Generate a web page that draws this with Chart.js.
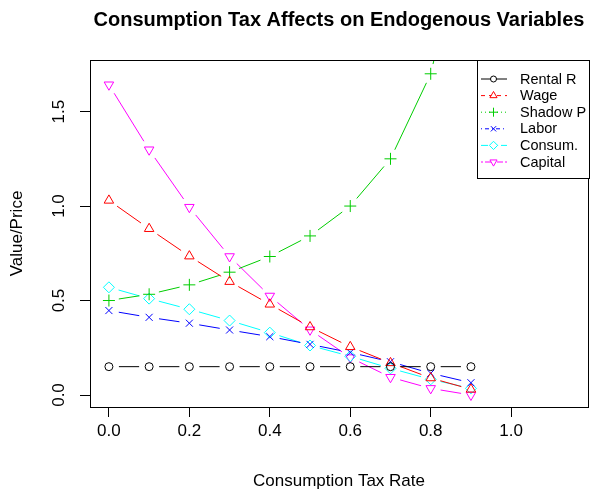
<!DOCTYPE html>
<html>
<head>
<meta charset="utf-8">
<script src="https://cdn.jsdelivr.net/npm/chart.js@4/dist/chart.umd.min.js"></script>
<style>
  html, body { margin: 0; padding: 0; background: #fff; }
  canvas { display: block; }
</style>
</head>
<body>
<canvas id="grafico" width="597" height="497"></canvas>
<script>
// -------------------------
// Dados
// -------------------------
const taxas = [0, 0.1, 0.2, 0.3, 0.4, 0.5, 0.6, 0.7, 0.8, 0.9];
const rentalR = [0.15, 0.15, 0.15, 0.15, 0.15, 0.15, 0.15, 0.15, 0.15, 0.15];
const wage = [1.03, 0.88, 0.735, 0.60, 0.48, 0.36, 0.255, 0.17, 0.09, 0.03];
const shadowP = [0.50, 0.533, 0.583, 0.65, 0.733, 0.842, 1.0, 1.25, 1.70, 2.6];
const labor = [0.447, 0.411, 0.380, 0.344, 0.309, 0.268, 0.225, 0.176, 0.115, 0.065];
const consum = [0.570, 0.510, 0.454, 0.394, 0.330, 0.262, 0.205, 0.141, 0.083, 0.035];
const capital = [1.642, 1.298, 0.994, 0.733, 0.524, 0.345, 0.198, 0.094, 0.035, 0.0];

const nomesSeries = ["Rental R", "Wage", "Shadow P", "Labor", "Consum.", "Capital"];
const xTicks = [0, 0.2, 0.4, 0.6, 0.8, 1.0];
const yTicks = [0, 0.5, 1.0, 1.5];

const titulo = "Consumption Tax Affects on Endogenous Variables";
const tituloX = "Consumption Tax Rate";
const tituloY = "Value/Price";

// -------------------------
// Estilos (cores / marcadores R)
// -------------------------
const cores = ["#000000", "#FF0000", "#00CD00", "#0000FF", "#00FFFF", "#FF00FF"];
const marcadores = ["circle", "triangle", "cross", "crossRot", "rectRot", "triangle"];
const rotacoes = [0, 0, 0, 0, 0, 180];
const raios = [4, 5.5, 6, 5, 5.5, 5.5];
const tracosLegenda = [[], [4, 4], [1, 3], [1, 3, 4, 3], [7, 3], [2, 2, 6, 2]];
const GAP = 10; // espaço entre linha e ponto (type = "b")

const FONTE = "'Liberation Sans', Arial, Helvetica, sans-serif";

function montarPontos(valores) {
  return taxas.map((t, i) => ({ x: t, y: valores[i] }));
}

const series = [rentalR, wage, shadowP, labor, consum, capital];

const datasets = series.map((valores, i) => ({
  label: nomesSeries[i],
  data: montarPontos(valores),
  borderColor: cores[i],
  borderWidth: 1,
  pointStyle: marcadores[i],
  pointRotation: rotacoes[i],
  pointRadius: raios[i],
  pointBorderColor: cores[i],
  pointBackgroundColor: "rgba(0,0,0,0)",
  pointBorderWidth: 1,
  fill: false,
  tension: 0,
  segment: {
    // linha com folga em volta de cada ponto
    borderDash: ctx => {
      const len = Math.hypot(ctx.p1.x - ctx.p0.x, ctx.p1.y - ctx.p0.y);
      const meio = Math.max(len - 2 * GAP, 0);
      return [0, GAP, meio + ctx.p0DataIndex * 1e-3, len + 100];
    }
  }
}));

// -------------------------
// Marcador simples p/ legenda
// -------------------------
function desenharMarcador(ctx, tipo, x, y, r, rot) {
  ctx.beginPath();
  if (tipo === "circle") {
    ctx.arc(x, y, r, 0, Math.PI * 2);
  } else if (tipo === "triangle") {
    let a = rot * Math.PI / 180;
    for (let k = 0; k < 3; k++) {
      const px = x + Math.sin(a) * r;
      const py = y - Math.cos(a) * r;
      if (k === 0) ctx.moveTo(px, py); else ctx.lineTo(px, py);
      a += 2 * Math.PI / 3;
    }
    ctx.closePath();
  } else if (tipo === "cross") {
    ctx.moveTo(x - r, y); ctx.lineTo(x + r, y);
    ctx.moveTo(x, y - r); ctx.lineTo(x, y + r);
  } else if (tipo === "crossRot") {
    const d = r * Math.SQRT1_2;
    ctx.moveTo(x - d, y - d); ctx.lineTo(x + d, y + d);
    ctx.moveTo(x - d, y + d); ctx.lineTo(x + d, y - d);
  } else if (tipo === "rectRot") {
    ctx.moveTo(x, y - r); ctx.lineTo(x + r, y);
    ctx.lineTo(x, y + r); ctx.lineTo(x - r, y);
    ctx.closePath();
  }
  if (tipo === "circle" || tipo === "triangle" || tipo === "rectRot") {
    ctx.fillStyle = "#FFFFFF";
    ctx.fill();
  }
  ctx.stroke();
}

// -------------------------
// Plugin: título, caixa e legenda
// -------------------------
const pluginMoldura = {
  id: "moldura",
  afterDraw(chart) {
    const ctx = chart.ctx;
    const area = chart.chartArea;
    ctx.save();

    // caixa do gráfico
    ctx.strokeStyle = "#000";
    ctx.lineWidth = 1;
    ctx.setLineDash([]);
    ctx.strokeRect(Math.round(area.left) + 0.5, Math.round(area.top) + 0.5,
      Math.round(area.right - area.left), Math.round(area.bottom - area.top));

    // título
    ctx.fillStyle = "#000";
    ctx.font = "bold 20px " + FONTE;
    ctx.textAlign = "center";
    ctx.textBaseline = "alphabetic";
    ctx.fillText(titulo, (area.left + area.right) / 2, 26);

    // legenda
    const lx0 = 477.5, ly0 = 60.5, lw = 112, lh = 118;
    ctx.fillStyle = "#FFFFFF";
    ctx.fillRect(lx0, ly0, lw, lh);
    ctx.strokeStyle = "#000";
    ctx.strokeRect(lx0, ly0, lw, lh);

    ctx.font = "14.5px " + FONTE;
    ctx.textAlign = "left";
    ctx.textBaseline = "middle";
    nomesSeries.forEach((nome, i) => {
      const y = 79 + i * 16.6;
      ctx.strokeStyle = cores[i];
      ctx.lineWidth = 1;
      ctx.setLineDash(tracosLegenda[i]);
      ctx.beginPath();
      ctx.moveTo(481, y);
      ctx.lineTo(507, y);
      ctx.stroke();
      ctx.setLineDash([]);
      desenharMarcador(ctx, marcadores[i], 493.5, y, raios[i] * 0.75, rotacoes[i]);
      ctx.fillStyle = "#000";
      ctx.fillText(nome, 520, y + 0.5);
    });

    ctx.restore();
  }
};

// -------------------------
// Gráfico
// -------------------------
Chart.defaults.color = "#000";
Chart.defaults.font.family = FONTE;

const ctxGrafico = document.getElementById("grafico").getContext("2d");

new Chart(ctxGrafico, {
  type: "line",
  data: { datasets },
  options: {
    responsive: false,
    animation: false,
    events: [],
    layout: {
      padding: { top: 60, bottom: 0, left: 0, right: 9 }
    },
    plugins: {
      legend: { display: false },
      title: { display: false },
      tooltip: { enabled: false }
    },
    scales: {
      x: {
        type: "linear",
        min: -0.047,
        max: 1.191,
        afterBuildTicks: scale => { scale.ticks = xTicks.map(v => ({ value: v })); },
        afterFit: scale => { scale.height = 90; },
        grid: {
          drawOnChartArea: false,
          drawTicks: true,
          tickLength: 10,
          color: "#000"
        },
        border: { display: true, color: "#000" },
        ticks: {
          autoSkip: false,
          maxRotation: 0,
          padding: 4.5,
          font: { size: 17 },
          callback: v => v.toFixed(1)
        },
        title: {
          display: true,
          text: tituloX,
          font: { size: 17 },
          padding: { top: 0, bottom: 5.4 }
        }
      },
      y: {
        type: "linear",
        min: -0.0635,
        max: 1.773,
        afterBuildTicks: scale => { scale.ticks = yTicks.map(v => ({ value: v })); },
        afterFit: scale => { scale.width = 90; },
        grid: {
          drawOnChartArea: false,
          drawTicks: true,
          tickLength: 10,
          color: "#000"
        },
        border: { display: true, color: "#000" },
        ticks: {
          autoSkip: false,
          minRotation: 90,
          maxRotation: 90,
          crossAlign: "center",
          padding: 9.2,
          font: { size: 17 },
          callback: v => v.toFixed(1)
        },
        title: {
          display: true,
          text: tituloY,
          font: { size: 17 },
          padding: { top: 6.8, bottom: 0 }
        }
      }
    }
  },
  plugins: [pluginMoldura]
});
</script>
</body>
</html>
